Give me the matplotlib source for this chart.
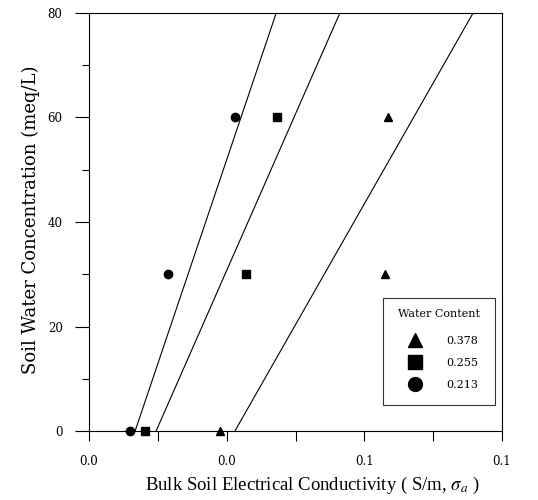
import matplotlib
matplotlib.use("Agg")
import matplotlib.pyplot as plt
from matplotlib.ticker import FixedLocator, FixedFormatter
from matplotlib.lines import Line2D

# Data
conc = [0, 30, 60]
ec_0378 = [0.038, 0.086, 0.087]
ec_0255 = [0.0163, 0.0456, 0.0546]
ec_0213 = [0.0119, 0.023, 0.0424]

# Fitted lines: x at conc 0 and conc 80
line_y = [0, 80]
line_0378 = [0.0424, 0.1116]
line_0255 = [0.0195, 0.0729]
line_0213 = [0.0134, 0.0544]

labels = ["0.378", "0.255", "0.213"]
xtick_vals = [0.0, 0.04, 0.08, 0.12]
xtick_labels = ["0.0", "0.0", "0.1", "0.1"]
ytick_vals = [0, 20, 40, 60, 80]

plt.rcParams['font.family'] = ['DejaVu Serif']
plt.rcParams['mathtext.fontset'] = 'stix'

fig = plt.figure(figsize=(5.38, 5.0), dpi=100)
ax = fig.add_axes([89/538, 1-431/500, (502-89)/538, (431-13)/500])

for xs in (line_0378, line_0255, line_0213):
    ax.plot(xs, line_y, color='black', lw=0.8)

ms = 6
ax.plot(ec_0378, conc, ls='none', marker='^', color='black', ms=ms, clip_on=False, zorder=5)
ax.plot(ec_0255, conc, ls='none', marker='s', color='black', ms=ms, clip_on=False, zorder=5)
ax.plot(ec_0213, conc, ls='none', marker='o', color='black', ms=ms, clip_on=False, zorder=5)

ax.set_xlim(0, 0.12)
ax.set_ylim(0, 80)
ax.xaxis.set_major_locator(FixedLocator(xtick_vals))
ax.xaxis.set_major_formatter(FixedFormatter(xtick_labels))
ax.xaxis.set_minor_locator(FixedLocator([0.02, 0.06, 0.10]))
ax.yaxis.set_major_locator(FixedLocator(ytick_vals))
ax.yaxis.set_minor_locator(FixedLocator([10, 30, 50, 70]))

ax.tick_params(axis='x', which='major', direction='out', length=7, width=0.8, labelsize=8.5, pad=10)
ax.tick_params(axis='x', which='minor', direction='out', length=7, width=0.8)
ax.tick_params(axis='y', which='major', direction='out', length=10, width=0.8, labelsize=8.5, pad=9)
ax.tick_params(axis='y', which='minor', direction='out', length=5, width=0.8)
for s in ax.spines.values():
    s.set_linewidth(0.8)

ax.set_xlabel("Bulk Soil Electrical Conductivity ( S/m, $\\sigma_{a}$ )",
              fontsize=13.5, family='Liberation Serif')
ax.xaxis.label.set_va('center')
ax.xaxis.set_label_coords((312-89)/413, (431-485)/418)
ax.set_ylabel("Soil Water Concentration (meq/L)", fontsize=13, family='DejaVu Serif')
ax.yaxis.label.set_va('center')
ax.yaxis.set_label_coords((31-89)/413, (431-220)/418)

handles = [Line2D([], [], ls='none', marker=m, color='black', ms=10) for m in ['^', 's', 'o']]
leg = ax.legend(handles, labels, title="Water Content", loc='lower right',
                bbox_to_anchor=((495-89)/413, (431-405)/418), fontsize=8, title_fontsize=8,
                frameon=True, fancybox=False, edgecolor='black', handletextpad=1.4,
                handlelength=2.8, borderpad=1.35, labelspacing=1.1, borderaxespad=0)
leg.get_frame().set_linewidth(0.8)
leg.get_title().set_position((0, 4))

fig.savefig("out.png", dpi=100)
